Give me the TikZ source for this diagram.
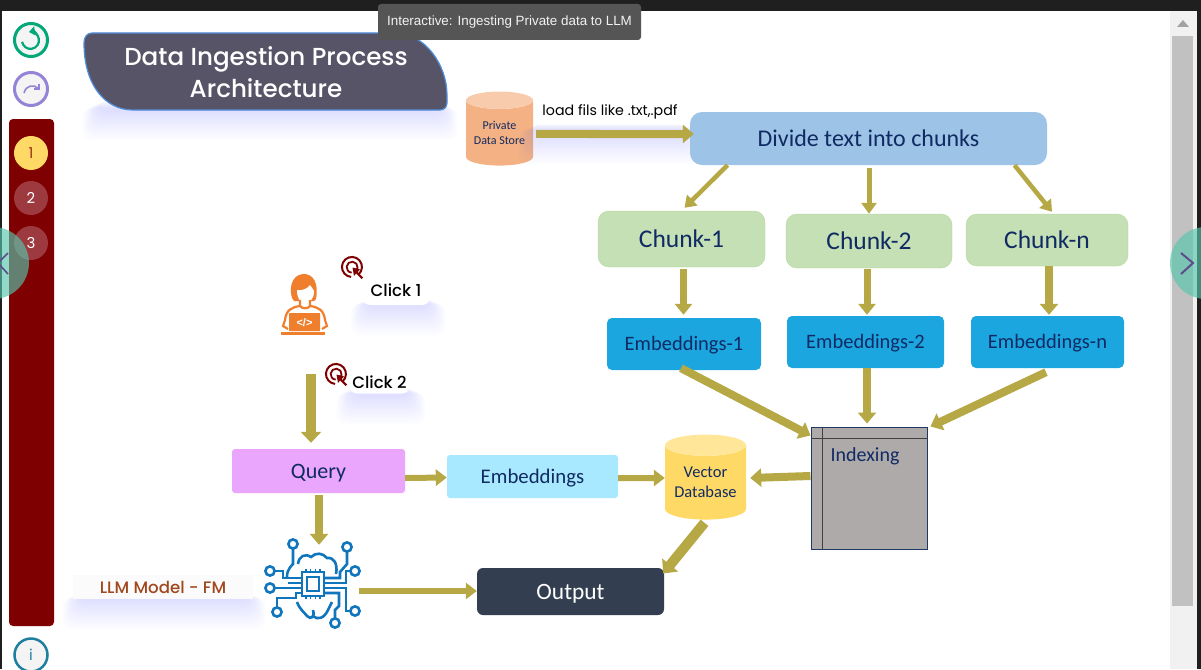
\documentclass[tikz,border=0pt]{standalone}
\usepackage{fontspec}
\setmainfont{Carlito}
\newfontfamily\uifont{Poppins}
\newfontfamily\uiheavy{Poppins Medium}
\newfontfamily\tipfont{Liberation Sans}
\usetikzlibrary{arrows.meta, shapes.geometric}

\definecolor{flowcol}{HTML}{B5A845}
\definecolor{navytext}{HTML}{102A63}
\definecolor{panelred}{HTML}{7F0000}
\definecolor{stepred}{HTML}{9C3A3F}
\definecolor{brainblue}{HTML}{0F75BC}
\definecolor{personcol}{HTML}{F07F2D}
\definecolor{shadowblue}{HTML}{5A8CFF}
\definecolor{scrolltrack}{HTML}{F1F1F1}
\definecolor{scrollthumb}{HTML}{C1C1C1}
\definecolor{scrollarrow}{HTML}{A3A3A3}
\definecolor{undogreen}{HTML}{00A878}
\definecolor{redopurple}{HTML}{9583D8}
\definecolor{infoteal}{HTML}{1F7F9F}
\definecolor{dotyellow}{HTML}{FFD966}
\definecolor{dottext}{HTML}{A0301A}
\definecolor{iconback}{HTML}{F4F4F4}
\definecolor{titlefill}{HTML}{585468}
\definecolor{titleline}{HTML}{4F8EDC}
\definecolor{tipfill}{HTML}{555555}
\definecolor{tiptext}{HTML}{F2F2F2}
\definecolor{storetop}{HTML}{F8CBAD}
\definecolor{storebody}{HTML}{F4B183}
\definecolor{dividefill}{HTML}{9DC3E6}
\definecolor{chunkfill}{HTML}{C5E0B4}
\definecolor{chunkline}{HTML}{B5D79E}
\definecolor{embedfill}{HTML}{1CA6E0}
\definecolor{indexfill}{HTML}{AEAAAA}
\definecolor{indexline}{HTML}{203864}
\definecolor{vectortop}{HTML}{FFE699}
\definecolor{queryfill}{HTML}{EAA6FC}
\definecolor{embqfill}{HTML}{A9E9FF}
\definecolor{outputfill}{HTML}{333F50}
\definecolor{llmback}{HTML}{FBFBFB}
\definecolor{llmtext}{HTML}{A0471D}
\definecolor{turnfill}{HTML}{57C6AD}
\definecolor{turnmark}{HTML}{5F4B8B}

\tikzset{
  flow/.style={draw=flowcol, line width=#1, -{Triangle[length=11pt,width=#1+10pt]}},
  flow/.default=8pt,
  box/.style={rounded corners=#1, inner sep=0pt, text depth=0pt, text=navytext},
  box/.default=5pt,
  chunkbox/.style={box=11pt, fill=chunkfill, draw=chunkline, text height=16.3pt, font=\fontsize{25.5}{26}\selectfont},
  embedbox/.style={box=5pt, fill=embedfill, text height=13pt, font=\fontsize{20.5}{22}\selectfont},
  store/.style={cylinder, shape border rotate=90, aspect=0.34, cylinder uses custom fill, inner sep=0pt, align=center, text=navytext},
  stepdot/.style={circle, minimum size=34pt, inner sep=0pt, fill=stepred, text=white, font=\uifont\fontsize{15}{15}\selectfont},
  clicklabel/.style={rounded corners=8pt, fill=white, inner sep=0pt, text height=12pt, text depth=0pt, font=\uiheavy\fontsize{16.5}{18}\selectfont},
  clickmark/.pic={
    \draw[panelred, line width=2pt] (6.5,7.5) arc (49:-265:10);
    \draw[panelred, line width=1.8pt] (3.5,4.5) arc (52:-265:5.5);
    \fill[panelred] (0.5,0.5) -- (8,2.5) -- (5.5,5) -- (11,10.5) -- (9.5,12) -- (4,6.5) -- (2,9) -- cycle;
  },
  brainchip/.pic={
    \begin{scope}[brainblue, line width=2.6pt]
      \draw (-11,-12) rectangle (11,12);
      \draw (-6,-7) rectangle (6,7);
      \foreach \t in {-7,-2.5,2.5,7} {
        \draw[line width=1.6pt] (\t,-12) -- (\t,-15);
        \draw[line width=1.6pt] (\t,12) -- (\t,15);
      }
      \draw (-20,-36) -- (-20,-20) .. controls (-26,-14) and (-26,-10) .. (-26,-7);
      \draw (-38,-13) -- (-30,-13) -- (-30,-6) -- (-11,-6);
      \draw (-38,4) -- (-11,4);
      \draw (-36,23) -- (-36,14) -- (-17,14) -- (-17,9) -- (-11,9);
      \draw (-11,-1) -- (-25,-1);
      \draw (34,-32) -- (34,-20) -- (27,-12) -- (27,-6) -- (11,-6);
      \draw (37,-13) -- (33,-13) -- (33,-1) -- (11,-1);
      \draw (11,4) -- (33,4) -- (33,27) -- (37,27);
      \draw (11,9) -- (26,9) -- (26,22) -- (22,26) -- (22,34);
      \draw (-15,-20) .. controls (-14,-28) and (-8,-31) .. (-2,-27) .. controls (3,-32) and (10,-31) .. (14,-26) .. controls (21,-27) and (25,-20) .. (23,-10);
      \draw (-16,18) .. controls (-13,26) and (-8,29) .. (-6,32) .. controls (-2,36) and (2,33) .. (0,26);
      \draw (0,32) .. controls (4,36) and (11,35) .. (15,26) -- (19,18);
      \foreach \p in {(-20,-40), (34,-37), (-43,-13), (42,-13), (-43,4), (-36,28), (42,27), (22,39)} {
        \draw[fill=white] \p circle (4.6);
      }
    \end{scope}
  }
}

% blue glow below the floating labels
\newcommand{\softglow}[4]{
  \foreach \g in {1,...,16} {
    \fill[shadowblue, opacity=0.011, rounded corners=9pt] (#1-\g*1.1, #2+\g*0.5) rectangle (#3+\g*1.1, #4+\g*1.9);
  }
}

\begin{document}
\begin{tikzpicture}[x=1pt, y=-1pt]
\useasboundingbox (0,0) rectangle (1201,669);

% window
\fill[white] (0,0) rectangle (1201,669);
\fill[black!88] (0,0) rectangle (1201,11);
\fill[black!88] (0,0) rectangle (2,669);
\fill[black!88] (1197,0) rectangle (1201,669);
\fill[scrolltrack] (1170,11) rectangle (1197,669);
\fill[scrollthumb] (1172,36) rectangle (1193,606);
\fill[scrollarrow] (1177,27) -- (1183,20) -- (1189,27) -- cycle;

% side bar
\node[draw=undogreen, line width=3pt, circle, minimum size=33pt, fill=iconback] (undo) at (31,40) {};
\draw[undogreen, line width=2.2pt, {Triangle[length=6pt,width=9pt]}-] (29,32) arc (-100:170:8.5);
\node[draw=redopurple, line width=3pt, circle, minimum size=33pt, fill=iconback] (redo) at (31,89) {};
\draw[redopurple, line width=1.6pt, -{Straight Barb[length=4pt]}] (24,93) .. controls (26,85) and (34,84) .. (40,90);
\fill[panelred, rounded corners=4pt] (9,119) rectangle (54,626);
\node[stepdot, fill=dotyellow, text=dottext] (one) at (31,153) {1};
\node[stepdot] (two) at (31,198) {2};
\node[stepdot] (three) at (31,243) {3};
\node[draw=infoteal, line width=2.5pt, circle, minimum size=33pt, fill=iconback, text=infoteal, font=\uifont\fontsize{15}{15}\selectfont] (info) at (31,655) {i};

% title
\softglow{100}{100}{440}{110}
\draw[titleline, line width=1.2pt, fill=titlefill] (92,33)
  -- (395,33) .. controls (425,33) and (447,65) .. (447,95)
  -- (447,103) .. controls (447,107) and (444,110) .. (440,110)
  -- (133,110) .. controls (105,110) and (84,85) .. (84,43)
  .. controls (84,37) and (87,33) .. (92,33) -- cycle;
\node[text=white, align=center, font=\uiheavy\fontsize{24.6}{32}\selectfont, inner sep=0pt] (title) at (266,72) {Data Ingestion Process\\Architecture};
\node[fill=tipfill, rounded corners=3pt, minimum width=263pt, minimum height=36pt, inner sep=0pt, text=tiptext, font=\tipfont\fontsize{13.4}{15}\selectfont] (tip) at (509.5,22) {Interactive: Ingesting Private data to LLM};

% ingestion
\node[store, cylinder end fill=storetop, cylinder body fill=storebody, minimum width=67pt, minimum height=74pt, font=\fontsize{12}{15}\selectfont] (pstore) at (499.5,133) {\raisebox{-1pt}{Private}\\\raisebox{-1pt}{Data Store}};
\softglow{536}{122}{684}{134}
\node[fill=white, inner sep=0pt, minimum width=152pt, minimum height=27pt, font=\uifont\fontsize{14.2}{16}\selectfont] (loadtxt) at (610,111.5) {load fils like .txt,.pdf};
\node[box=12pt, fill=dividefill, minimum width=357pt, minimum height=53pt, text height=15.5pt, font=\fontsize{24}{26}\selectfont] (divide) at (868.5,138.5) {Divide text into chunks};

\node[chunkbox, minimum width=167pt, minimum height=56pt] (chunka) at (681.5,239) {Chunk-1};
\node[chunkbox, minimum width=166pt, minimum height=54pt] (chunkb) at (869,241) {Chunk-2};
\node[chunkbox, minimum width=162pt, minimum height=52pt] (chunkn) at (1047,240) {Chunk-n};

\node[embedbox, minimum width=154pt, minimum height=52pt] (emba) at (684,344) {Embeddings-1};
\node[embedbox, minimum width=157pt, minimum height=52pt] (embb) at (865.5,342) {Embeddings-2};
\node[embedbox, minimum width=153pt, minimum height=52pt] (embn) at (1047.5,342) {Embeddings-n};

\node[draw=indexline, line width=1pt, fill=indexfill, minimum width=116pt, minimum height=122pt, inner sep=0pt] (index) at (869,488) {};
\draw[black!75, line width=0.9pt] ([xshift=12pt]index.north west) -- ([xshift=12pt]index.south west);
\draw[black!75, line width=0.9pt] ([yshift=-12pt]index.north west) -- ([yshift=-12pt]index.north east);
\node[text=navytext, font=\fontsize{20}{22}\selectfont, inner sep=0pt] (indextxt) at (865,456.5) {Indexing};

\node[store, cylinder end fill=vectortop, cylinder body fill=dotyellow, minimum width=81pt, minimum height=85pt, font=\fontsize{16.5}{20}\selectfont] (vector) at (705.5,482.5) {\raisebox{-2pt}{Vector}\\\raisebox{-2pt}{Database}};

% query side
\node[box=3pt, fill=queryfill, minimum width=173pt, minimum height=44pt, text height=14pt, font=\fontsize{22}{24}\selectfont] (query) at (318.5,471) {Query};
\node[box=3pt, fill=embqfill, minimum width=171pt, minimum height=43pt, text height=13.5pt, font=\fontsize{20.8}{22}\selectfont] (embq) at (532.5,476.5) {Embeddings};
\node[box=6pt, fill=outputfill, text=white, minimum width=187pt, minimum height=47pt, text height=15pt, font=\fontsize{23.4}{24}\selectfont] (output) at (570.5,591.5) {Output};

\softglow{80}{590}{248}{599}
\node[fill=llmback, inner sep=0pt, minimum width=180pt, minimum height=24pt, text height=12pt, text depth=0pt, text=llmtext, font=\uiheavy\fontsize{16.6}{18}\selectfont] (llm) at (163,587) {LLM Model - FM};

\node[minimum width=92pt, minimum height=88pt, inner sep=0pt] (brain) at (313,584) {};
\pic at (brain.center) {brainchip};

\node[minimum width=46pt, minimum height=60pt, inner sep=0pt] (person) at (305,304) {};
\fill[personcol] (292,298) .. controls (288,283) and (295,274) .. (304,274) .. controls (313,274) and (319,283) .. (316,299) -- (314,301) -- (294,301) -- cycle;
\fill[white] (297,290) .. controls (303,291) and (308,288) .. (310,285) .. controls (312,288) and (313,289) .. (314,291) .. controls (314,300) and (309,303) .. (305,303) .. controls (300,303) and (297,298) .. (297,290) -- cycle;
\draw[personcol, line width=2.2pt] (300,300) -- (300,306) .. controls (292,307) and (286,310) .. (285,320) -- (283,326) -- (288,329);
\draw[personcol, line width=2.2pt] (310,300) -- (310,306) .. controls (318,307) and (324,310) .. (325,320) -- (327,326) -- (322,329);
\draw[personcol, line width=2.2pt] (300,306) .. controls (302,309) and (308,309) .. (310,306);
\fill[personcol, rounded corners=0.5pt] (289,313) rectangle (320,331);
\fill[personcol] (281,332) rectangle (325,335);
\node[text=white, inner sep=0pt, font=\tipfont\bfseries\fontsize{11}{11}\selectfont] (code) at (304.5,323) {</>};

\pic at (352,267) {clickmark};
\softglow{368}{296}{428}{305}
\node[clicklabel, minimum width=68pt, minimum height=29pt] (clicka) at (396,290.5) {Click 1};
\pic at (336,374) {clickmark};
\softglow{354}{385}{408}{394}
\node[clicklabel, minimum width=61pt, minimum height=22pt] (clickb) at (379.5,382.5) {Click 2};

% connectors
\draw[flow] ([xshift=3pt,yshift=-1pt]pstore.east) -- ([xshift=4pt,yshift=4.5pt]divide.west);
\draw[flow=4.5pt] ([xshift=-141pt]divide.south) -- ([xshift=3pt,yshift=3pt]chunka.north);
\draw[flow=5pt] ([xshift=0.5pt,yshift=-3pt]divide.south) -- (chunkb.north);
\draw[flow=4.5pt] ([xshift=146pt]divide.south) -- ([xshift=5pt,yshift=2pt]chunkn.north);
\draw[flow=7pt] ([xshift=2pt,yshift=-2pt]chunka.south) -- ([xshift=-0.5pt,yshift=3pt]emba.north);
\draw[flow=7pt] ([xshift=-2pt,yshift=-1pt]chunkb.south) -- ([xshift=1.5pt,yshift=1pt]embb.north);
\draw[flow=8pt] ([xshift=2pt]chunkn.south) -- ([xshift=1.5pt,yshift=1pt]embn.north);
\draw[flow] ([xshift=-3pt,yshift=2pt]emba.south) -- ([yshift=-9pt]index.north west);
\draw[flow] ([xshift=1.5pt]embb.south) -- ([xshift=-2pt,yshift=3pt]index.north);
\draw[flow] ([xshift=-1.5pt,yshift=-4pt]embn.south) -- ([xshift=3pt]index.north east);
\draw[flow] ([yshift=12pt]index.west) -- ([xshift=4pt,yshift=4.5pt]vector.east);
\draw[flow=10pt] ([xshift=-1pt,yshift=-3pt]vector.south) -- ([xshift=-1pt,yshift=18pt]output.east);
\draw[flow=6pt] ([yshift=-7pt]query.east) -- ([yshift=-1pt]embq.west);
\draw[flow=6pt] ([yshift=-1.5pt]embq.east) -- ([yshift=4.5pt]vector.west);
\draw[flow] ([xshift=0.5pt,yshift=-2pt]query.south) -- ([xshift=6pt,yshift=-5pt]brain.north);
\draw[flow=6pt] ([yshift=-7pt]brain.east) -- ([yshift=0.5pt]output.west);
\draw[flow=10pt] ([xshift=6pt,yshift=-40pt]person.south) -- ([xshift=-7.5pt,yshift=6pt]query.north);

% page turners
\fill[turnfill, opacity=0.65] (-7,263) circle (36);
\fill[turnfill, opacity=0.65] (1206,263) circle (36);
\draw[turnmark, line width=1.6pt] (8,253) -- (-2,263) -- (8,274);
\draw[turnmark, line width=2pt] (1181,253) -- (1193,263) -- (1181,274);
\end{tikzpicture}
\end{document}
